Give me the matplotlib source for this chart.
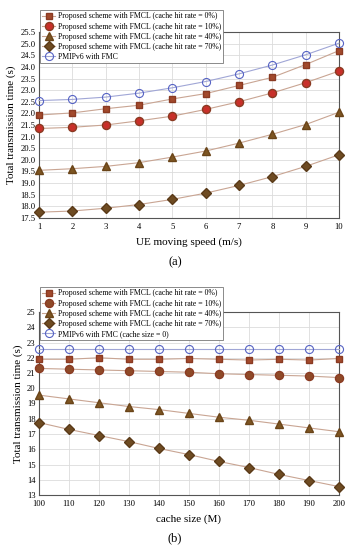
import matplotlib
matplotlib.use("Agg")
import matplotlib.pyplot as plt

plt.rcParams['font.family'] = ['Liberation Serif', 'DejaVu Serif']

speed = [1, 2, 3, 4, 5, 6, 7, 8, 9, 10]
a_hit0 = [21.93, 22.02, 22.2, 22.35, 22.62, 22.85, 23.2, 23.55, 24.1, 24.7]
a_hit10 = [21.35, 21.4, 21.5, 21.68, 21.88, 22.17, 22.5, 22.88, 23.32, 23.82]
a_hit40 = [19.55, 19.62, 19.72, 19.88, 20.12, 20.38, 20.72, 21.1, 21.52, 22.05]
a_hit70 = [17.75, 17.8, 17.92, 18.08, 18.3, 18.57, 18.9, 19.28, 19.72, 20.22]
a_pmip = [22.55, 22.6, 22.7, 22.87, 23.1, 23.37, 23.7, 24.08, 24.52, 25.02]

cache = [100, 110, 120, 130, 140, 150, 160, 170, 180, 190, 200]
b_hit0 = [21.9, 21.9, 22.0, 21.9, 21.9, 21.95, 21.9, 21.85, 21.9, 21.85, 21.95]
b_hit10 = [21.3, 21.25, 21.2, 21.15, 21.1, 21.05, 20.95, 20.9, 20.85, 20.8, 20.7]
b_hit40 = [19.55, 19.3, 19.05, 18.8, 18.6, 18.35, 18.1, 17.9, 17.65, 17.4, 17.15]
b_hit70 = [17.75, 17.3, 16.9, 16.5, 16.05, 15.65, 15.2, 14.8, 14.35, 13.95, 13.55]
b_pmip = [22.55] * 11

labels_a = ['Proposed scheme with FMCL (cache hit rate = 0%)',
            'Proposed scheme with FMCL (cache hit rate = 10%)',
            'Proposed scheme with FMCL (cache hit rate = 40%)',
            'Proposed scheme with FMCL (cache hit rate = 70%)',
            'PMIPv6 with FMC']
labels_b = labels_a[:4] + ['PMIPv6 with FMC (cache size = 0)']

line_c = '#c9a593'
fig = plt.figure(figsize=(3.52, 5.5), dpi=100)


def panel(ax, x, series, labels, circ_fill, yticks, ylim, xlabel, leg_anchor):
    styles = [
        dict(marker='s', ms=5.0, mfc='#a24a2c', mec='#8a3a22'),
        dict(marker='o', ms=5.8, mfc=circ_fill, mec='#8a3a22'),
        dict(marker='^', ms=5.8, mfc='#7d5522', mec='#6a4418'),
        dict(marker='D', ms=4.8, mfc='#6e4b22', mec='#5a3a18'),
        dict(marker='o', ms=5.8, mfc='none', mec='#5663c4', mew=0.8),
    ]
    for i, (y, lab) in enumerate(zip(series, labels)):
        lc = '#a0a6d6' if i == 4 else line_c
        ax.plot(x, y, color=lc, lw=0.8, label=lab, clip_on=False, zorder=3, **styles[i])
    ax.set_xlim(x[0], x[-1])
    ax.set_ylim(*ylim)
    ax.set_xticks(x)
    ax.set_yticks(yticks)
    ax.grid(True, color='#dcdcdc', lw=0.6)
    for s in ax.spines.values():
        s.set_color('#555555')
        s.set_linewidth(0.8)
    ax.tick_params(labelsize=6.2, length=0)
    ax.tick_params(axis='x', pad=3.5)
    ax.tick_params(axis='y', pad=2.5)
    ax.set_xlabel(xlabel, fontsize=8, labelpad=5)
    ax.set_ylabel('Total transmission time (s)', fontsize=8, labelpad=3)
    leg = ax.legend(loc='upper left', bbox_to_anchor=leg_anchor,
                    bbox_transform=fig.transFigure, fontsize=5.6,
                    frameon=True, fancybox=False, edgecolor='#777777',
                    handlelength=1.6, handletextpad=0.4, labelspacing=0.28,
                    borderpad=0.3, borderaxespad=0, framealpha=1)
    leg.get_frame().set_linewidth(0.6)
    leg.set_zorder(10)
    return leg


ax1 = fig.add_axes([39/352, 1-218/550, 300/352, 186/550])
yt1 = [17.5 + 0.5*i for i in range(17)]
panel(ax1, speed, [a_hit0, a_hit10, a_hit40, a_hit70, a_pmip], labels_a, '#c8302a',
      yt1, (17.5, 25.5), 'UE moving speed (m/s)', (40/352, 1-10/550))
ax1.set_yticklabels(['%.1f' % v for v in yt1])
fig.text(175/352, 1-262/550, '(a)', ha='center', va='center', fontsize=9)

ax2 = fig.add_axes([39/352, 1-495/550, 300/352, 183/550])
panel(ax2, cache, [b_hit0, b_hit10, b_hit40, b_hit70, b_pmip], labels_b, '#8f4a28',
      list(range(13, 26)), (13, 25), 'cache size (M)', (40/352, 1-287/550))
fig.text(175/352, 1-538/550, '(b)', ha='center', va='center', fontsize=9)

fig.savefig('out.png', dpi=100)
